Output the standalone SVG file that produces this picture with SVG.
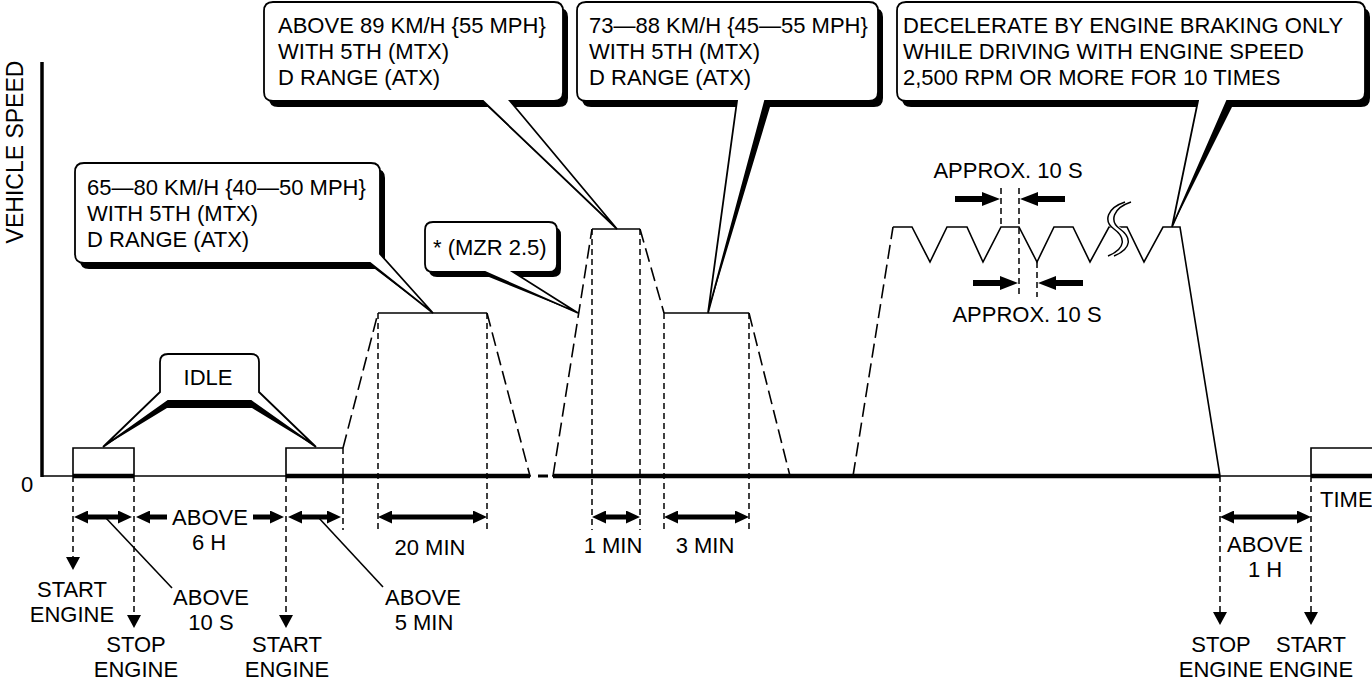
<svg xmlns="http://www.w3.org/2000/svg" width="1372" height="687" viewBox="0 0 1372 687">
<style>
text{font-family:"Liberation Sans",Arial,Helvetica,sans-serif;font-size:22px;fill:#000}
.c{text-anchor:middle}
.s{fill:none;stroke:#000;stroke-width:1.6;stroke-linejoin:miter}
.ld{fill:none;stroke:#000;stroke-width:1.6;stroke-dasharray:14 6}
.sd{fill:none;stroke:#000;stroke-width:1.5;stroke-dasharray:6 4}
.bub{fill:#fff;stroke:#000;stroke-width:1.8;stroke-linejoin:miter}
.sh{fill:#000;stroke:none}
.dim{stroke:#000;stroke-width:5;fill:none}
.dd{marker-start:url(#ah);marker-end:url(#ah)}
.de{marker-end:url(#ah)}
.ap{stroke:#000;stroke-width:6;fill:none;marker-end:url(#ab)}
</style>
<defs>
<marker id="ah" viewBox="0 0 14 13" refX="7" refY="6.5" markerWidth="14" markerHeight="13" markerUnits="userSpaceOnUse" orient="auto-start-reverse"><path d="M0,0L14,6.5L0,13Z"/></marker>
<marker id="ab" viewBox="0 0 18 14" refX="9" refY="7" markerWidth="18" markerHeight="14" markerUnits="userSpaceOnUse" orient="auto"><path d="M0,0L18,7L0,14Z"/></marker>
</defs>
<rect width="1372" height="687" fill="#fff"/>

<g id="axes">
<line x1="42" y1="62" x2="42" y2="477" stroke="#000" stroke-width="3.5"/>
<line x1="42" y1="476" x2="1372" y2="476" stroke="#000" stroke-width="1.5"/>
<g stroke="#000" stroke-width="4.5">
<line x1="73" y1="476" x2="134" y2="476"/>
<line x1="286" y1="476" x2="530" y2="476"/>
<line x1="553" y1="476" x2="1220" y2="476"/>
<line x1="1311" y1="476" x2="1372" y2="476"/>
</g>
<rect x="531" y="474" width="21" height="4" fill="#fff"/>
<line x1="538" y1="476" x2="548" y2="476" stroke="#000" stroke-width="3"/>
<text x="0" y="0" transform="translate(23,152) rotate(-90)" class="c" style="font-size:23px">VEHICLE SPEED</text>
<text x="27" y="492" class="c">0</text>
<text x="1320" y="507">TIME</text>
</g>

<g id="profile">
<path class="s" d="M73,476V448H134V476"/>
<path class="s" d="M286,476V448H343"/>
<path class="ld" d="M343,448L378,313"/>
<path class="s" d="M378,313H487"/>
<path class="ld" d="M487,313L530,476"/>
<path class="ld" d="M553,476L592,229"/>
<path class="s" d="M592,229H640"/>
<path class="ld" d="M640,229L664,313"/>
<path class="s" d="M664,313H749"/>
<path class="ld" d="M749,313L790,476"/>
<path class="ld" d="M853,476L893,227"/>
<polyline class="s" points="893,227 912,227 930,262 947,227 967,227 983,262 1001,227 1019,227 1037,262 1054,227 1073,227 1090,262 1109,227 1127,227 1144,262 1163,227 1180,227 1220,476"/>
<path class="s" d="M1311,476V448H1372"/>
<g id="break">
<path d="M1128,202C1110,208 1106,221 1117,229C1128,237 1130,248 1111,256" fill="none" stroke="#fff" stroke-width="7"/>
<path d="M1125,202C1107,208 1103,221 1114,229C1125,237 1127,248 1108,256" fill="none" stroke="#000" stroke-width="1.5"/>
<path d="M1131,202C1113,208 1109,221 1120,229C1131,237 1133,248 1114,256" fill="none" stroke="#000" stroke-width="1.5"/>
</g>
</g>

<g id="extension-lines">
<path class="sd" d="M73,476V558"/>
<path class="sd" d="M134,476V616"/>
<path class="sd" d="M286,476V616"/>
<path class="sd" d="M343,448V530"/>
<path class="sd" d="M378,313V530"/>
<path class="sd" d="M487,313V530"/>
<path class="sd" d="M592,229V530"/>
<path class="sd" d="M640,229V530"/>
<path class="sd" d="M664,313V530"/>
<path class="sd" d="M749,313V530"/>
<path class="sd" d="M1220,476V613"/>
<path class="sd" d="M1311,476V613"/>
<path class="sd" d="M1001,188V227"/>
<path class="sd" d="M1019,188V297"/>
<path class="sd" d="M1037,262V297"/>
<polygon points="66,557 80,557 73,570"/>
<polygon points="127,615 141,615 134,628"/>
<polygon points="279,615 293,615 286,628"/>
<polygon points="1213,612 1227,612 1220,625"/>
<polygon points="1304,612 1318,612 1311,625"/>
</g>

<g id="connectors">
<line class="dim dd" x1="81" y1="517" x2="125" y2="517"/>
<line class="dim de" x1="167" y1="517" x2="143" y2="517"/>
<line class="dim de" x1="253" y1="517" x2="277" y2="517"/>
<line class="dim dd" x1="295" y1="517" x2="334" y2="517"/>
<line class="dim dd" x1="385" y1="517" x2="480" y2="517"/>
<line class="dim dd" x1="599" y1="517" x2="633" y2="517"/>
<line class="dim dd" x1="671" y1="517" x2="742" y2="517"/>
<line class="dim dd" x1="1227" y1="517" x2="1304" y2="517"/>
<line class="ap" x1="955" y1="199" x2="991" y2="199"/>
<line class="ap" x1="1065" y1="199" x2="1029" y2="199"/>
<line class="ap" x1="973" y1="283" x2="1009" y2="283"/>
<line class="ap" x1="1083" y1="283" x2="1047" y2="283"/>
<line class="s" x1="105" y1="517" x2="172" y2="588"/>
<line class="s" x1="318" y1="517" x2="383" y2="587"/>
</g>

<g id="labels">
<text x="210" y="525" class="c">ABOVE</text>
<text x="209" y="550" class="c">6 H</text>
<text x="430" y="555" class="c">20 MIN</text>
<text x="613" y="553" class="c">1 MIN</text>
<text x="705" y="553" class="c">3 MIN</text>
<text x="72" y="597" class="c">START</text>
<text x="72" y="622" class="c">ENGINE</text>
<text x="136" y="652" class="c">STOP</text>
<text x="136" y="677" class="c">ENGINE</text>
<text x="211" y="605" class="c">ABOVE</text>
<text x="211" y="630" class="c">10 S</text>
<text x="287" y="652" class="c">START</text>
<text x="287" y="677" class="c">ENGINE</text>
<text x="423" y="605" class="c">ABOVE</text>
<text x="424" y="630" class="c">5 MIN</text>
<text x="1265" y="552" class="c">ABOVE</text>
<text x="1265" y="577" class="c">1 H</text>
<text x="1221" y="652" class="c">STOP</text>
<text x="1221" y="677" class="c">ENGINE</text>
<text x="1311" y="652" class="c">START</text>
<text x="1311" y="677" class="c">ENGINE</text>
<text x="1008" y="178" class="c">APPROX. 10 S</text>
<text x="1027" y="322" class="c">APPROX. 10 S</text>
</g>

<g id="callout-idle">
<path class="sh" d="M103,447L168,401H251L316,447L252,408H167Z"/>
<path class="bub" d="M103,447L160,392V362Q160,354 168,354H251Q259,354 259,362V392L316,447L251,401H168Z"/>
<text x="208" y="385" class="c">IDLE</text>
</g>

<g id="callout-65-80">
<path class="sh" d="M89,169H376Q385,169 385,178V260L433,313L375,269H89Q80,269 80,260V178Q80,169 89,169Z"/>
<path class="bub" d="M84,163H371Q380,163 380,172V254L433,313L370,263H84Q75,263 75,254V172Q75,163 84,163Z"/>
<text x="87" y="195">65—80 KM/H {40—50 MPH}</text>
<text x="87" y="221">WITH 5TH (MTX)</text>
<text x="87" y="247">D RANGE (ATX)</text>
</g>

<g id="callout-mzr">
<path class="sh" d="M437,227H553Q561,227 561,235V269Q561,277 553,277H517L578,313L489,277H437Q429,277 429,269V235Q429,227 437,227Z"/>
<path class="bub" d="M433,222H549Q557,222 557,230V264Q557,272 549,272H513L578,313L485,272H433Q425,272 425,264V230Q425,222 433,222Z"/>
<text x="433" y="255">* (MZR 2.5)</text>
</g>

<g id="callout-above-89">
<path class="sh" d="M278,8H559Q568,8 568,17V98Q568,107 559,107H515L617,229L488,107H278Q269,107 269,98V17Q269,8 278,8Z"/>
<path class="bub" d="M273,2H554Q563,2 563,11V92Q563,101 554,101H510L617,229L483,101H273Q264,101 264,92V11Q264,2 273,2Z"/>
<text x="278" y="33">ABOVE 89 KM/H {55 MPH}</text>
<text x="278" y="59">WITH 5TH (MTX)</text>
<text x="278" y="85">D RANGE (ATX)</text>
</g>

<g id="callout-73-88">
<path class="sh" d="M591,8H874Q883,8 883,17V98Q883,107 874,107H770L708,313L742,107H591Q582,107 582,98V17Q582,8 591,8Z"/>
<path class="bub" d="M586,2H869Q878,2 878,11V92Q878,101 869,101H765L708,313L737,101H586Q577,101 577,92V11Q577,2 586,2Z"/>
<text x="589" y="33">73—88 KM/H {45—55 MPH}</text>
<text x="589" y="59">WITH 5TH (MTX)</text>
<text x="589" y="85">D RANGE (ATX)</text>
</g>

<g id="callout-decelerate">
<path class="sh" d="M911,8H1361Q1370,8 1370,17V98Q1370,107 1361,107H1232L1172,227L1203,107H911Q902,107 902,98V17Q902,8 911,8Z"/>
<path class="bub" d="M906,2H1356Q1365,2 1365,11V92Q1365,101 1356,101H1227L1172,227L1198,101H906Q897,101 897,92V11Q897,2 906,2Z"/>
<text x="903" y="33">DECELERATE BY ENGINE BRAKING ONLY</text>
<text x="903" y="59">WHILE DRIVING WITH ENGINE SPEED</text>
<text x="903" y="85">2,500 RPM OR MORE FOR 10 TIMES</text>
</g>
</svg>
